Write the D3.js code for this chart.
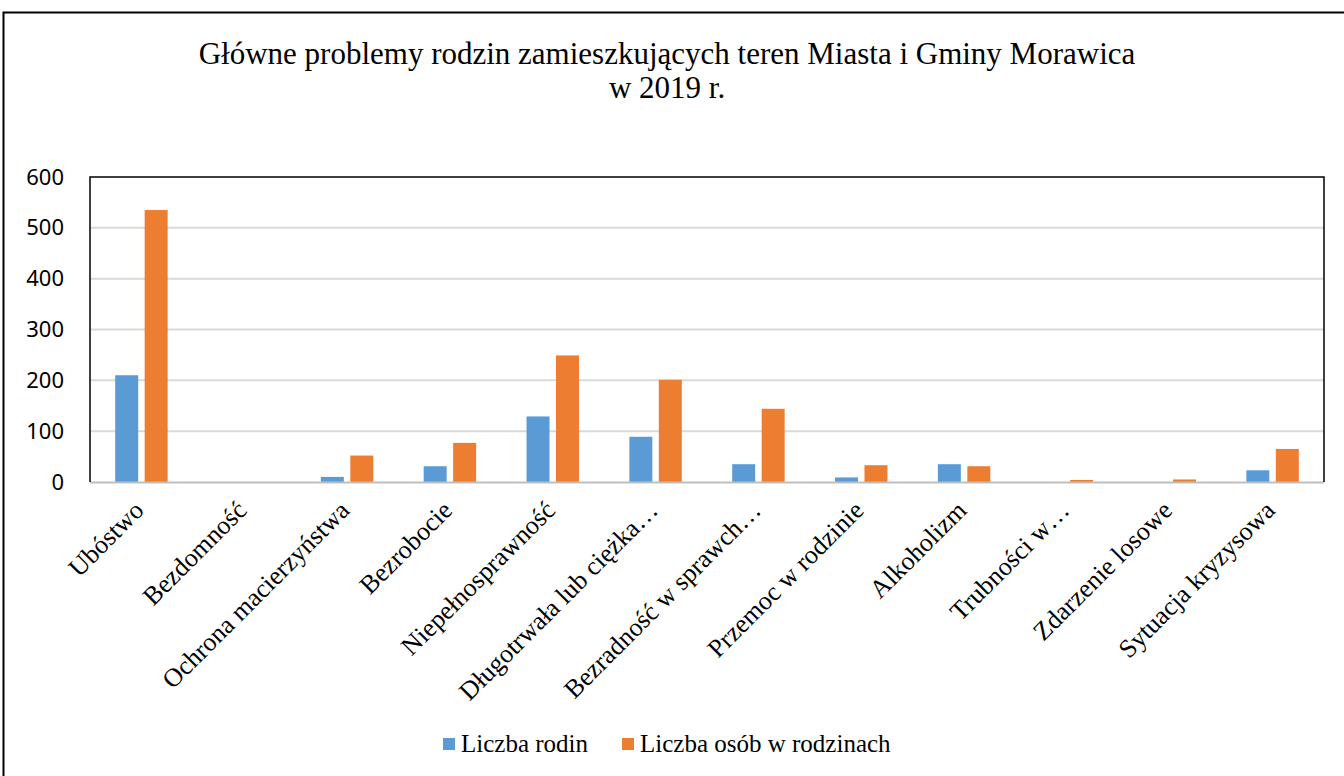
<!DOCTYPE html>
<html>
<head>
<meta charset="utf-8">
<script src="https://cdn.jsdelivr.net/npm/d3@7"></script>
<style>
  body { margin: 0; background: #fff; }
  svg { display: block; }
</style>
</head>
<body>
<svg width="1344" height="776"></svg>
<script>
// data
var categories = ["Ubóstwo", "Bezdomność", "Ochrona macierzyństwa", "Bezrobocie",
  "Niepełnosprawność", "Długotrwała lub ciężka…", "Bezradność w sprawch…",
  "Przemoc w rodzinie", "Alkoholizm", "Trubności w…", "Zdarzenie losowe", "Sytuacja kryzysowa"];
var rodziny = [210, 0, 10, 31, 129, 89, 35, 9, 35, 0, 0, 23];
var osoby = [535, 0, 52, 77, 249, 201, 144, 33, 31, 4, 5, 65];
var seriesNames = ["Liczba rodin", "Liczba osób w rodzinach"];
var colors = ["#5b9bd5", "#ed7d31"];
var yTicks = [0, 100, 200, 300, 400, 500, 600];

var width = 1344, height = 776;
var margin = ({top: 177, right: 20, bottom: 294, left: 90});
var plotRight = 1324;
var serif = "'Liberation Serif', 'Times New Roman', serif";

var rows = categories.map((c, i) => ({cat: c, values: [rodziny[i], osoby[i]]}));

var x0 = d3.scaleBand()
    .domain(categories)
    .range([margin.left, plotRight])
    .paddingInner(0.49)
    .paddingOuter(0.245);
var x1 = d3.scaleBand()
    .domain([0, 1])
    .range([0, x0.bandwidth()])
    .paddingInner(0.22);
var y = d3.scaleLinear()
    .domain([0, 600])
    .range([height - margin.bottom, margin.top]);

var svg = d3.select("svg");

// outer frame (only top and left edges show)
svg.append("path")
    .attr("d", `M3.5,776 V12.5 H1344`)
    .attr("fill", "none")
    .attr("stroke", "#000")
    .attr("stroke-width", 2);

// title
var title = svg.append("text")
    .attr("text-anchor", "middle")
    .attr("font-family", serif)
    .attr("font-size", 31)
    .attr("fill", "#000");
title.append("tspan").attr("x", 667).attr("y", 64)
    .text("Główne problemy rodzin zamieszkujących teren Miasta i Gminy Morawica");
title.append("tspan").attr("x", 667).attr("y", 98).text("w 2019 r.");

// gridlines
svg.append("g")
  .selectAll("line")
  .data(yTicks.filter(d => d > 0 && d < 600))
  .join("line")
    .attr("x1", margin.left)
    .attr("x2", plotRight)
    .attr("y1", d => y(d))
    .attr("y2", d => y(d))
    .attr("stroke", "#d9d9d9")
    .attr("stroke-width", 2);

// y axis labels
var yAxis = g => g
    .attr("transform", `translate(${margin.left - 26},0)`)
    .call(d3.axisLeft(y).tickValues(yTicks).tickSize(0).tickPadding(0))
    .call(g => g.select(".domain").remove())
    .call(g => g.selectAll("text")
        .attr("font-family", "'Noto Sans', 'Open Sans', sans-serif")
        .attr("font-size", 22)
        .attr("fill", "#000"));
svg.append("g").call(yAxis);

// bars
svg.append("g")
  .selectAll("g")
  .data(rows)
  .join("g")
    .attr("transform", d => `translate(${x0(d.cat)},0)`)
  .selectAll("rect")
  .data(d => d.values.map((v, i) => ({i, v})))
  .join("rect")
    .attr("x", d => x1(d.i))
    .attr("y", d => y(d.v))
    .attr("width", x1.bandwidth())
    .attr("height", d => y(0) - y(d.v))
    .attr("fill", d => colors[d.i]);

// x axis line
svg.append("line")
    .attr("x1", margin.left)
    .attr("x2", plotRight)
    .attr("y1", y(0) + 0.5)
    .attr("y2", y(0) + 0.5)
    .attr("stroke", "#bfbfbf")
    .attr("stroke-width", 2);

// plot box
svg.append("path")
    .attr("d", `M${margin.left},${y(0)} V${margin.top} H${plotRight} V${y(0)}`)
    .attr("fill", "none")
    .attr("stroke", "#000")
    .attr("stroke-width", 1.5);

// category labels, rotated
svg.append("g")
  .selectAll("text")
  .data(categories)
  .join("text")
    .attr("transform", d => `translate(${x0(d) + x0.bandwidth() / 2 - 9},${y(0) + 17}) rotate(-45)`)
    .attr("text-anchor", "end")
    .attr("dy", "0.7em")
    .attr("font-family", serif)
    .attr("font-size", 26)
    .attr("fill", "#000")
    .text(d => d);

// legend
var legendX = [443, 622];
var legend = svg.append("g")
  .selectAll("g")
  .data(seriesNames)
  .join("g")
    .attr("transform", (d, i) => `translate(${legendX[i]},738)`);
legend.append("rect")
    .attr("width", 12)
    .attr("height", 12)
    .attr("fill", (d, i) => colors[i]);
legend.append("text")
    .attr("x", 18)
    .attr("y", 14)
    .attr("font-family", serif)
    .attr("font-size", 25)
    .attr("fill", "#000")
    .text(d => d);
</script>
</body>
</html>
